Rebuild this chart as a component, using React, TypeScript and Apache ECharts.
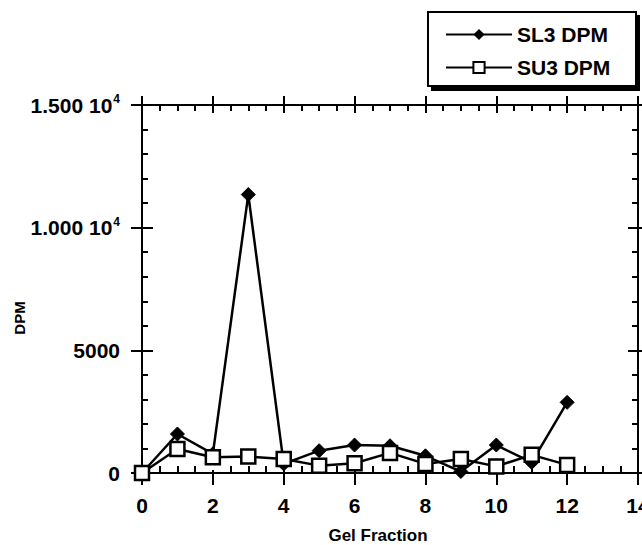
import React, { useEffect, useRef } from "react";
import * as echarts from "echarts";

const gelFraction = [0, 1, 2, 3, 4, 5, 6, 7, 8, 9, 10, 11, 12];
const sl3Dpm = [0, 1590, 780, 11350, 370, 910, 1140, 1110, 700, 60, 1140, 430, 2880];
const su3Dpm = [0, 980, 640, 670, 570, 300, 400, 820, 370, 570, 270, 740, 330];
const seriesNames = ["SL3 DPM", "SU3 DPM"];
const yTickValues = [0, 5000, 10000, 15000];
const yTickMain = ["0", "5000", "1.000 10", "1.500 10"];
const yTickExp = ["", "", "4", "4"];
const xTitle = "Gel Fraction";
const yTitle = "DPM";

const FONT = "'Liberation Sans', Arial, Helvetica, sans-serif";

export default function App() {
  const ref = useRef<HTMLDivElement>(null);
  useEffect(() => {
    if (!ref.current) return;
    const chart = echarts.init(ref.current, undefined, { renderer: "svg" });
    const line = { lineStyle: { color: "#000", width: 2 } };
    const grid = { left: 142, right: 4, top: 105, bottom: 72, containLabel: false, outerBoundsMode: "none" };
    const xBase = { type: "value", min: 0, max: 14, interval: 2, splitLine: { show: false } };
    const yBase = { type: "value", min: 0, max: 15000, interval: 5000, splitLine: { show: false } };
    const data1 = gelFraction.map((x, i) => [x, sl3Dpm[i]]);
    const data2 = gelFraction.map((x, i) => [x, su3Dpm[i]]);
    chart.setOption({
      animation: false,
      backgroundColor: "#fff",
      grid,
      xAxis: [
        {
          ...xBase,
          position: "bottom",
          axisLine: { show: true, onZero: false, ...line },
          axisTick: { show: true, inside: false, length: 12, ...line },
          axisLabel: { show: true, margin: 22, color: "#000", fontSize: 21, fontWeight: "bold", fontFamily: FONT },
        },
        {
          ...xBase,
          position: "bottom",
          axisLine: { show: false, onZero: false },
          axisTick: { show: true, inside: true, length: 3, ...line },
          minorTick: { show: true, splitNumber: 4, length: 7, ...line },
          axisLabel: { show: false },
        },
        {
          ...xBase,
          position: "top",
          axisLine: { show: true, onZero: false, ...line },
          axisTick: { show: true, inside: true, length: 8, ...line },
          minorTick: { show: true, splitNumber: 4, length: 6, ...line },
          axisLabel: { show: false },
        },
        {
          ...xBase,
          position: "top",
          axisLine: { show: false, onZero: false },
          axisTick: { show: true, inside: false, length: 9, ...line },
          axisLabel: { show: false },
        },
      ],
      yAxis: [
        {
          ...yBase,
          position: "left",
          axisLine: { show: true, onZero: false, ...line },
          axisTick: { show: true, inside: false, length: 11, ...line },
          axisLabel: {
            show: true,
            margin: 22,
            color: "#000",
            fontFamily: FONT,
            formatter: (v: number) => {
              const i = yTickValues.indexOf(v);
              if (i < 0) return "";
              return yTickExp[i]
                ? `{m|${yTickMain[i]}}{s|${yTickExp[i]}}`
                : `{m|${yTickMain[i]}}`;
            },
            rich: {
              m: { fontSize: 21, fontWeight: "bold", fontFamily: FONT, color: "#000" },
              s: { fontSize: 12, fontWeight: "bold", fontFamily: FONT, color: "#000", padding: [0, 0, 12, 1] },
            },
          },
        },
        {
          ...yBase,
          position: "left",
          axisLine: { show: false, onZero: false },
          axisTick: { show: true, inside: true, length: 11, ...line },
          minorTick: { show: true, splitNumber: 5, length: 6, ...line },
          axisLabel: { show: false },
        },
        {
          ...yBase,
          position: "right",
          axisLine: { show: true, onZero: false, ...line },
          axisTick: { show: true, inside: true, length: 10, ...line },
          minorTick: { show: true, splitNumber: 5, length: 6, ...line },
          axisLabel: { show: false },
        },
        {
          ...yBase,
          position: "right",
          axisLine: { show: false, onZero: false },
          axisTick: { show: true, inside: false, length: 4, ...line },
          axisLabel: { show: false },
        },
      ],
      legend: {
        orient: "vertical",
        left: 440,
        top: 19,
        itemWidth: 66,
        itemHeight: 14,
        itemGap: 12,
        data: seriesNames,
        textStyle: { fontSize: 21, fontWeight: "bold", fontFamily: FONT, color: "#000" },
        z: 10,
      },
      graphic: [
        {
          type: "rect",
          z: 5,
          shape: { x: 431, y: 15, width: 209, height: 76 },
          style: { fill: "#000" },
        },
        {
          type: "rect",
          z: 6,
          shape: { x: 428, y: 12, width: 208, height: 74 },
          style: { fill: "#fff", stroke: "#000", lineWidth: 2 },
        },
        {
          type: "text",
          z: 6,
          x: 19,
          y: 318,
          rotation: Math.PI / 2,
          style: {
            text: yTitle,
            fontSize: 15,
            fontWeight: "bold",
            fontFamily: FONT,
            fill: "#000",
            align: "center",
            verticalAlign: "middle",
          },
        },
        {
          type: "text",
          z: 6,
          x: 378,
          y: 535,
          style: {
            text: xTitle,
            fontSize: 17,
            fontWeight: "bold",
            fontFamily: FONT,
            fill: "#000",
            align: "center",
            verticalAlign: "middle",
          },
        },
      ],
      series: [
        {
          name: seriesNames[0],
          type: "line",
          xAxisIndex: 0,
          yAxisIndex: 0,
          data: data1,
          symbol: "diamond",
          symbolSize: 14,
          lineStyle: { color: "#000", width: 2.5 },
          itemStyle: { color: "#000", borderColor: "#000" },
          z: 3,
        },
        {
          name: seriesNames[1],
          type: "line",
          xAxisIndex: 0,
          yAxisIndex: 0,
          data: data2,
          symbol: "rect",
          symbolSize: 14,
          lineStyle: { color: "#000", width: 2.5 },
          itemStyle: { color: "#fff", borderColor: "#000", borderWidth: 2.5 },
          z: 4,
        },
      ],
    });
    return () => chart.dispose();
  }, []);
  return (
    <div
      ref={ref}
      style={{ position: "fixed", left: 0, top: 0, width: 642, height: 545, background: "#fff" }}
    />
  );
}
